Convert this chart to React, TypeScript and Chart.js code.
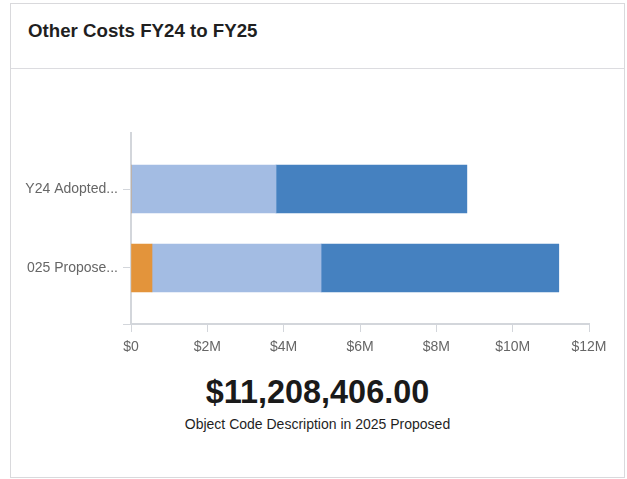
import React, { useEffect, useRef } from "react";
import { Chart, registerables } from "chart.js";

Chart.register(...registerables);

// ---- data ----
const categories = ["Y24 Adopted...", "025 Propose..."];
const categoryIndex = [0, 1];
const seriesNames = ["Object Code A", "Object Code B", "Object Code C"];
const seriesA = [0, 550000]; // orange
const seriesB = [3800000, 4430000]; // light blue
const seriesC = [5000000, 6228406]; // dark blue
const seriesColors = ["#e3943b", "#a3bce3", "#4581c0"];
const xTickValues = [0, 2000000, 4000000, 6000000, 8000000, 10000000, 12000000];
const titleText = "Other Costs FY24 to FY25";
const bigNumber = "$11,208,406.00";
const subText = "Object Code Description in 2025 Proposed";

const FONT = '"Liberation Sans", Arial, Helvetica, sans-serif';

export default function App() {
  const ref = useRef<HTMLCanvasElement | null>(null);

  useEffect(() => {
    if (!ref.current) return;
    const allSeries = [seriesA, seriesB, seriesC];
    const chart = new Chart(ref.current, {
      type: "bar",
      data: {
        datasets: allSeries.map((s, k) => ({
          label: seriesNames[k],
          data: s.map((v, i) => ({ x: v, y: categoryIndex[i] })),
          backgroundColor: seriesColors[k],
          borderWidth: 0,
          barThickness: 48,
        })),
      },
      options: {
        indexAxis: "y",
        animation: false,
        responsive: false,
        maintainAspectRatio: false,
        layout: { padding: { top: 33, right: 34, left: 0, bottom: 0 } },
        plugins: { legend: { display: false }, tooltip: { enabled: false } },
        scales: {
          x: {
            type: "linear",
            stacked: true,
            min: 0,
            max: 12000000,
            afterBuildTicks: (scale: any) => {
              scale.ticks = xTickValues.map((v) => ({ value: v }));
            },
            afterFit: (scale: any) => {
              scale.height = 46;
            },
            ticks: {
              padding: 7,
              color: "#666666",
              font: { family: FONT, size: 14 },
              callback: (v: any) => (v === 0 ? "$0" : "$" + v / 1000000 + "M"),
            },
            grid: {
              drawOnChartArea: false,
              drawTicks: true,
              tickLength: 8,
              color: "#d3d6db",
            },
            border: { display: true, color: "#d3d6db", width: 2 },
          },
          y: {
            type: "linear",
            stacked: true,
            reverse: true,
            offset: false,
            bounds: "data",
            min: -0.71,
            max: 1.71,
            afterBuildTicks: (scale: any) => {
              scale.ticks = [0, 1, 1.71].map((v) => ({ value: v }));
            },
            afterFit: (scale: any) => {
              scale.width = 120;
            },
            ticks: {
              padding: 5,
              color: "#666666",
              font: { family: FONT, size: 14 },
              callback: (v: any) =>
                Number.isInteger(v) && categories[v] !== undefined ? categories[v] : "",
            },
            grid: {
              offset: false,
              drawOnChartArea: false,
              drawTicks: true,
              tickLength: 8,
              color: "#d3d6db",
            },
            border: { display: true, color: "#d3d6db", width: 2 },
          },
        },
      },
    });
    return () => chart.destroy();
  }, []);

  return (
    <div>
      <div
        style={{
          position: "absolute",
          left: 10,
          top: 3,
          width: 615,
          height: 475,
          boxSizing: "border-box",
          border: "1px solid #d9d9dc",
          background: "#fff",
        }}
      />
      <div
        style={{
          position: "absolute",
          left: 11,
          top: 68,
          width: 613,
          height: 0,
          borderTop: "1px solid #dcdce0",
        }}
      />
      <div
        style={{
          position: "absolute",
          left: 28,
          top: 19,
          lineHeight: "24px",
          fontFamily: FONT,
          fontWeight: "bold",
          fontSize: 18.7,
          color: "#1f1f1f",
          whiteSpace: "nowrap",
        }}
      >
        {titleText}
      </div>
      <canvas
        ref={ref}
        width={612}
        height={270}
        style={{ position: "absolute", left: 11, top: 100, width: 612, height: 270 }}
      />
      <div
        style={{
          position: "absolute",
          left: 10,
          width: 615,
          top: 372,
          lineHeight: "40px",
          textAlign: "center",
          fontFamily: FONT,
          fontWeight: "bold",
          fontSize: 32.4,
          color: "#1a1a1a",
        }}
      >
        {bigNumber}
      </div>
      <div
        style={{
          position: "absolute",
          left: 10,
          width: 615,
          top: 415,
          lineHeight: "18px",
          textAlign: "center",
          fontFamily: FONT,
          fontSize: 14,
          color: "#1f1f1f",
        }}
      >
        {subText}
      </div>
    </div>
  );
}
